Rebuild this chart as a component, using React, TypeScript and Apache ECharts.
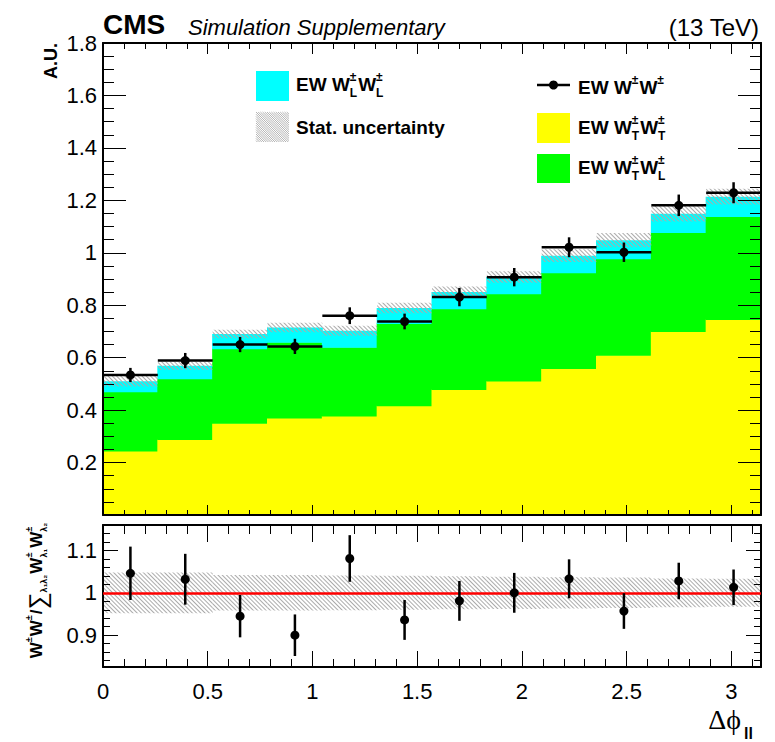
import React, { useEffect, useRef } from 'react';
import * as echarts from 'echarts';

// ---- data ----
const BIN_LABELS = ['0.00-0.26', '0.26-0.52', '0.52-0.79', '0.79-1.05', '1.05-1.31', '1.31-1.57', '1.57-1.83', '1.83-2.09', '2.09-2.36', '2.36-2.62', '2.62-2.88', '2.88-3.14'];
const TT = [0.244, 0.288, 0.350, 0.370, 0.378, 0.417, 0.479, 0.511, 0.559, 0.609, 0.700, 0.746];
const TL = [0.226, 0.232, 0.284, 0.289, 0.262, 0.313, 0.308, 0.333, 0.365, 0.368, 0.377, 0.392];
const LL = [0.040, 0.049, 0.056, 0.056, 0.063, 0.059, 0.063, 0.064, 0.065, 0.071, 0.072, 0.076];
const STAT_UNC = [0.020, 0.016, 0.016, 0.018, 0.019, 0.020, 0.021, 0.022, 0.024, 0.027, 0.030, 0.030];
const DATA = [0.534, 0.589, 0.650, 0.643, 0.760, 0.738, 0.831, 0.907, 1.021, 1.002, 1.181, 1.229];
const DATA_ERR = [0.027, 0.029, 0.029, 0.029, 0.032, 0.030, 0.035, 0.035, 0.038, 0.037, 0.041, 0.040];
const RATIO = [1.046, 1.032, 0.945, 0.900, 1.081, 0.936, 0.981, 1.000, 1.033, 0.957, 1.028, 1.013];
const RATIO_ERR = [0.063, 0.060, 0.050, 0.049, 0.055, 0.047, 0.047, 0.047, 0.046, 0.042, 0.043, 0.042];
const RATIO_BAND = [0.048, 0.048, 0.042, 0.042, 0.041, 0.040, 0.039, 0.038, 0.037, 0.036, 0.034, 0.033];
const Y_MAIN = { min: 0, max: 1.8, interval: 0.2 };
const Y_RATIO = { min: 0.825, max: 1.16, splitNumber: 3 };
const X_RANGE = { min: 0, max: Math.PI, interval: 0.5 };

const FONT = '"Liberation Sans", Arial, Helvetica, sans-serif';
const HATCH_COLOR = '#ababab';
const C_TT = '#ffff00';
const C_TL = '#00ff00';
const C_LL = '#00ffff';

const HATCH_DECAL = {
  symbol: 'rect',
  symbolSize: 1,
  dashArrayX: [1, 0],
  dashArrayY: [1, 2],
  rotation: Math.PI / 4,
  color: HATCH_COLOR,
  backgroundColor: null,
};

let measureCtx: CanvasRenderingContext2D | null = null;
function textWidth(text: string, size: number, weight = 'bold', style = 'normal', family = FONT) {
  if (!measureCtx) measureCtx = document.createElement('canvas').getContext('2d');
  if (!measureCtx) return text.length * size * 0.6;
  measureCtx.font = `${style} ${weight} ${size}px ${family}`;
  return measureCtx.measureText(text).width;
}

function txt(text: string, x: number, y: number, size: number, opts: any = {}) {
  const align = opts.align ?? 'left';
  const va = opts.va ?? 'middle';
  return {
    type: 'text',
    x,
    y,
    silent: true,
    z: 100,
    style: {
      text,
      fill: opts.fill ?? '#000',
      fontSize: size,
      fontWeight: opts.weight ?? 'normal',
      fontStyle: opts.style ?? 'normal',
      fontFamily: opts.family ?? FONT,
      align,
      verticalAlign: va,
      textAlign: align,
      textVerticalAlign: va,
    },
  };
}

type Part = { t?: string; sup?: string; sub?: string; size?: number; weight?: string; family?: string; dy?: number };

function buildLabel(parts: Part[], x0: number, yc: number, big: number, small: number, supDy: number, subDy: number) {
  const els: any[] = [];
  let x = x0;
  for (const p of parts) {
    if (p.t !== undefined) {
      const size = p.size ?? big;
      const weight = p.weight ?? 'bold';
      const family = p.family ?? FONT;
      els.push(txt(p.t, x, yc + (p.dy ?? 0), size, { weight, family }));
      x += textWidth(p.t, size, weight, 'normal', family);
    } else {
      let w = 0;
      if (p.sup) {
        els.push(txt(p.sup, x, yc + supDy, small, { weight: 'bold' }));
        w = Math.max(w, textWidth(p.sup, small));
      }
      if (p.sub) {
        els.push(txt(p.sub, x, yc + subDy, small, { weight: 'bold' }));
        w = Math.max(w, textWidth(p.sub, small));
      }
      x += w + 1;
    }
  }
  return { els, width: x - x0 };
}

function hatchBox(x0: number, y0: number, w: number, h: number, step: number) {
  const els: any[] = [];
  for (let c = -w; c <= h; c += step) {
    const sx = Math.max(0, -c);
    const ex = Math.min(w, h - c);
    if (ex <= sx) continue;
    els.push({
      type: 'line',
      silent: true,
      z: 100,
      shape: { x1: x0 + sx, y1: y0 + sx + c, x2: x0 + ex, y2: y0 + ex + c },
      style: { stroke: HATCH_COLOR, lineWidth: 0.9 },
    });
  }
  return els;
}

function axisStyle(major: number, minor: number, minorSplit: number, labels: any) {
  return {
    z: 5,
    axisLine: { show: true, onZero: false, lineStyle: { color: '#000', width: 2 } },
    axisTick: { show: true, inside: true, length: major, lineStyle: { color: '#000', width: 1 } },
    minorTick: { show: true, splitNumber: minorSplit, length: minor, lineStyle: { color: '#000', width: 1 } },
    splitLine: { show: false },
    minorSplitLine: { show: false },
    axisLabel: labels ?? { show: false },
  };
}

// stacked histogram: yellow (TT), green (TL), cyan (LL); rects overlap neighbours by 1px to avoid seams
const stackRender = (params: any, api: any) => {
  const i = api.value(0);
  const a = api.value(1);
  const b = api.value(2);
  const c = api.value(3);
  const w = api.size([1, 0])[0];
  const base = api.coord([i, 0]);
  const p1 = api.coord([i, a]);
  const p2 = api.coord([i, a + b]);
  const p3 = api.coord([i, a + b + c]);
  const x = base[0] - w / 2 - 0.5;
  const ww = w + 1;
  return {
    type: 'group',
    children: [
      { type: 'rect', shape: { x, y: p1[1], width: ww, height: base[1] - p1[1] }, style: { fill: C_TT } },
      { type: 'rect', shape: { x, y: p2[1], width: ww, height: p1[1] - p2[1] + 0.5 }, style: { fill: C_TL } },
      { type: 'rect', shape: { x, y: p3[1], width: ww, height: p2[1] - p3[1] + 0.5 }, style: { fill: C_LL } },
    ],
  };
};

const pointRender = (withH: boolean) => (params: any, api: any) => {
  const i = api.value(0);
  const v = api.value(1);
  const e = api.value(2);
  const c = api.coord([i, v]);
  const w = api.size([1, 0])[0];
  const t = api.coord([i, v + e]);
  const b = api.coord([i, v - e]);
  const children: any[] = [];
  if (withH) {
    children.push({ type: 'line', shape: { x1: c[0] - w / 2, y1: c[1], x2: c[0] + w / 2, y2: c[1] }, style: { stroke: '#000', lineWidth: 2.5 } });
  }
  children.push({ type: 'line', shape: { x1: c[0], y1: t[1], x2: c[0], y2: b[1] }, style: { stroke: '#000', lineWidth: 2.5 } });
  children.push({ type: 'circle', shape: { cx: c[0], cy: c[1], r: 4.5 }, style: { fill: '#000' } });
  return { type: 'group', children };
};

export default function App() {
  const ref = useRef<HTMLDivElement>(null);
  useEffect(() => {
    if (!ref.current) return;
    const chart = echarts.init(ref.current, null, { renderer: 'svg' });

    const labelFont = { color: '#000', fontSize: 22, fontFamily: FONT };
    const MC = TT.map((v, i) => v + TL[i] + LL[i]);

    // legend & texts
    const g: any[] = [];
    g.push(txt('CMS', 103, 24, 28, { weight: 'bold' }));
    g.push(txt('Simulation Supplementary', 188, 27, 22, { style: 'italic' }));
    g.push(txt('(13 TeV)', 759, 27, 24, { align: 'right' }));
    g.push({
      type: 'text', x: 51, y: 43, rotation: Math.PI / 2, silent: true, z: 100,
      style: { text: 'A.U.', fill: '#000', fontSize: 18, fontWeight: 'bold', fontFamily: FONT, align: 'right', verticalAlign: 'middle', textAlign: 'right', textVerticalAlign: 'middle' },
    });
    // Legend boxes
    g.push({ type: 'rect', z: 100, silent: true, shape: { x: 256, y: 71, width: 33, height: 30 }, style: { fill: C_LL } });
    g.push(...hatchBox(256, 112, 33, 30, 2.2));
    g.push({ type: 'line', z: 100, silent: true, shape: { x1: 537, y1: 85, x2: 570, y2: 85 }, style: { stroke: '#000', lineWidth: 2.5 } });
    g.push({ type: 'circle', z: 100, silent: true, shape: { cx: 553.5, cy: 85, r: 4.5 }, style: { fill: '#000' } });
    g.push({ type: 'rect', z: 100, silent: true, shape: { x: 537, y: 113, width: 33, height: 30 }, style: { fill: C_TT } });
    g.push({ type: 'rect', z: 100, silent: true, shape: { x: 537, y: 154, width: 33, height: 29 }, style: { fill: C_TL } });
    const L = (parts: Part[], x: number, y: number) => buildLabel(parts, x, y, 19, 12, -7, 8.5).els;
    g.push(...L([{ t: 'EW W' }, { sup: '±', sub: 'L' }, { t: 'W' }, { sup: '±', sub: 'L' }], 296, 84));
    g.push(...L([{ t: 'Stat. uncertainty' }], 296, 127));
    g.push(...L([{ t: 'EW W' }, { sup: '±' }, { t: 'W' }, { sup: '±' }], 578, 87));
    g.push(...L([{ t: 'EW W' }, { sup: '±', sub: 'T' }, { t: 'W' }, { sup: '±', sub: 'T' }], 578, 127));
    g.push(...L([{ t: 'EW W' }, { sup: '±', sub: 'T' }, { t: 'W' }, { sup: '±', sub: 'L' }], 578, 167));

    // ratio y title (rotated)
    const rl = buildLabel(
      [
        { t: 'W' }, { sup: '±' }, { t: 'W' }, { sup: '±' }, { t: '/' },
        { t: '∑', size: 24, weight: 'normal', dy: 1 }, { sub: 'λ₁λ₂' },
        { t: 'W' }, { sup: '±', sub: 'λ₁' }, { t: 'W' }, { sup: '±', sub: 'λ₂' },
      ],
      0, 0, 17, 9, -7, 8
    );
    const off = -rl.width / 2;
    g.push({
      type: 'group', x: 36, y: 590, rotation: Math.PI / 2, silent: true, z: 100,
      children: rl.els.map((e: any) => ({ ...e, x: e.x + off })),
    });

    // x-axis title
    g.push(txt('Δϕ', 741, 719, 28, { align: 'right', family: '"Liberation Serif", "DejaVu Serif", "Times New Roman", serif' }));
    g.push(txt('ll', 744, 741, 16, { weight: 'bold', va: 'bottom' }));

    const option: any = {
      animation: false,
      grid: [
        { left: 103, top: 43, width: 658, height: 472, show: false },
        { left: 103, top: 525, width: 658, height: 142, show: false },
      ],
      xAxis: [
        { type: 'category', gridIndex: 0, data: BIN_LABELS, show: false },
        { type: 'value', gridIndex: 0, position: 'bottom', ...X_RANGE, ...axisStyle(10, 5, 5, null) },
        { type: 'value', gridIndex: 0, position: 'top', ...X_RANGE, ...axisStyle(11, 6, 5, null) },
        { type: 'category', gridIndex: 1, data: BIN_LABELS, show: false },
        {
          type: 'value', gridIndex: 1, position: 'bottom', ...X_RANGE,
          ...axisStyle(16, 8, 5, { show: true, ...labelFont, margin: 13, showMaxLabel: false, formatter: (v: number) => String(+v.toFixed(1)) }),
        },
        { type: 'value', gridIndex: 1, position: 'top', ...X_RANGE, ...axisStyle(17, 9, 5, null) },
      ],
      yAxis: [
        {
          type: 'value', gridIndex: 0, position: 'left', ...Y_MAIN,
          ...axisStyle(23, 11, 4, { show: true, ...labelFont, margin: 6, showMinLabel: false, formatter: (v: number) => String(+v.toFixed(1)) }),
        },
        { type: 'value', gridIndex: 0, position: 'right', ...Y_MAIN, ...axisStyle(23, 11, 4, null) },
        {
          type: 'value', gridIndex: 1, position: 'left', ...Y_RATIO,
          ...axisStyle(15, 7, 5, { show: true, ...labelFont, margin: 6, showMinLabel: false, showMaxLabel: false, formatter: (v: number) => String(+v.toFixed(1)) }),
        },
        { type: 'value', gridIndex: 1, position: 'right', ...Y_RATIO, ...axisStyle(15, 7, 5, null) },
      ],
      series: [
        {
          type: 'custom', name: 'EW W±W± polarizations', xAxisIndex: 0, yAxisIndex: 0, z: 2,
          data: TT.map((v, i) => [i, v, TL[i], LL[i]]), encode: { x: 0, y: 1 }, renderItem: stackRender, silent: true,
        },
        { type: 'bar', name: 'uncBase', xAxisIndex: 0, yAxisIndex: 0, stack: 'unc', z: 3, data: MC.map((m, i) => m - STAT_UNC[i]), barWidth: '100%', barGap: '-100%', itemStyle: { color: 'rgba(0,0,0,0)' }, silent: true },
        { type: 'bar', name: 'Stat. uncertainty', xAxisIndex: 0, yAxisIndex: 0, stack: 'unc', z: 3, data: STAT_UNC.map((u) => 2 * u), barWidth: '100%', barGap: '-100%', itemStyle: { color: 'rgba(0,0,0,0)', decal: HATCH_DECAL }, silent: true },
        { type: 'custom', name: 'EW W±W±', xAxisIndex: 0, yAxisIndex: 0, z: 10, data: DATA.map((v, i) => [i, v, DATA_ERR[i]]), encode: { x: 0, y: 1 }, renderItem: pointRender(true), silent: true },

        { type: 'bar', name: 'bandBase', xAxisIndex: 3, yAxisIndex: 2, stack: 'band', data: RATIO_BAND.map((h) => 1 - h), barWidth: '100%', barGap: '-100%', itemStyle: { color: 'rgba(0,0,0,0)' }, silent: true },
        {
          type: 'bar', name: 'band', xAxisIndex: 3, yAxisIndex: 2, stack: 'band', data: RATIO_BAND.map((h) => 2 * h), barWidth: '100%', barGap: '-100%',
          itemStyle: { color: 'rgba(0,0,0,0)', decal: HATCH_DECAL }, silent: true,
          markLine: { silent: true, symbol: 'none', label: { show: false }, lineStyle: { color: '#ff0000', width: 2.5, type: 'solid' }, data: [{ yAxis: 1 }], z: 8 },
        },
        { type: 'custom', name: 'ratio', xAxisIndex: 3, yAxisIndex: 2, z: 10, data: RATIO.map((v, i) => [i, v, RATIO_ERR[i]]), encode: { x: 0, y: 1 }, renderItem: pointRender(false), silent: true },
      ],
      graphic: { elements: g },
    };
    chart.setOption(option);
    return () => chart.dispose();
  }, []);
  return <div ref={ref} style={{ position: 'absolute', left: 0, top: 0, width: 775, height: 742, background: '#fff' }} />;
}
